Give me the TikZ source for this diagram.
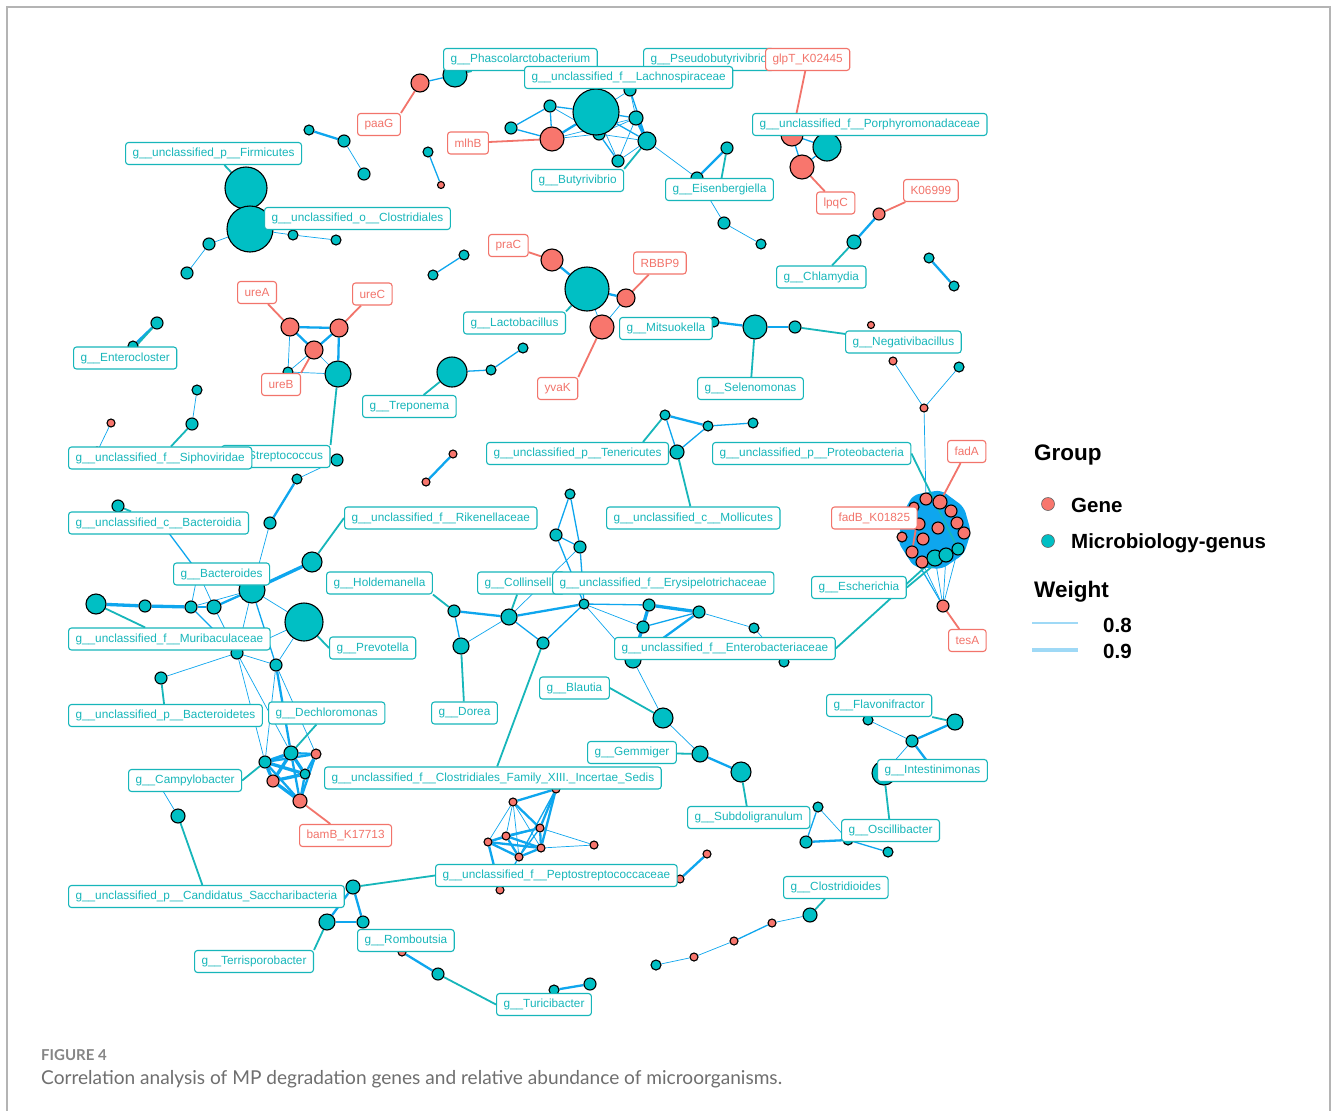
\documentclass[tikz,border=0pt]{standalone}
\usepackage{fontspec}
\setmainfont{Liberation Sans}
\newfontfamily\capfont{Lato}
\definecolor{genteal}{HTML}{00BFC4}
\definecolor{labteal}{HTML}{17B6BA}
\definecolor{genered}{HTML}{F8766D}
\definecolor{labred}{HTML}{F2746B}
\definecolor{edgeblue}{HTML}{0EA6EE}
\definecolor{legblue}{HTML}{9FD9F6}
\definecolor{capgray}{HTML}{6F6F6F}
\definecolor{framegray}{HTML}{B4B4B4}
\pgfdeclarelayer{backdrop}
\pgfdeclarelayer{edgelayer}
\pgfdeclarelayer{lablayer}
\pgfsetlayers{backdrop,edgelayer,main,lablayer}

\begin{document}
\begin{tikzpicture}[
    x=1pt, y=-1pt,
    genus/.style={circle, draw=black, line width=1.1pt, fill=genteal, inner sep=0pt, minimum size={2*#1pt}},
    gene/.style={genus=#1, fill=genered},
    tlab/.style={anchor=west, draw=labteal, text=labteal, fill=white, rounded corners=3pt,
      line width=1.1pt, inner xsep=7pt, inner ysep=0pt, minimum height=22pt,
      font=\fontsize{11.8}{13}\selectfont},
    rlab/.style={tlab, draw=labred, text=labred},
    ew1/.style={draw=edgeblue, line width=0.7pt},
    ew2/.style={draw=edgeblue, line width=1.3pt},
    ew3/.style={draw=edgeblue, line width=2.3pt},
    ew4/.style={draw=edgeblue, line width=3.3pt},
    tlead/.style={draw=labteal, line width=1.8pt},
    rlead/.style={draw=labred, line width=1.8pt},
    legtext/.style={anchor=base west, inner sep=0pt, font=\fontsize{20.5}{24}\selectfont\bfseries},
    legtitle/.style={anchor=base west, inner sep=0pt, font=\fontsize{22.5}{26}\selectfont\bfseries}
  ]

  \useasboundingbox (0,0) rectangle (1331,1111);
  \begin{pgfonlayer}{backdrop}
    \fill[white] (0,0) rectangle (1331,1111);
    \draw[framegray, line width=1.5pt] (7,1111) -- (7,7) -- (1330,7) -- (1330,1111);
  \end{pgfonlayer}

  % upper left
  \node[genus=21] (f1) at (246,188) {};
  \node[genus=23] (f2) at (250,229) {};
  \node[genus=5] (f3) at (293,235) {};
  \node[genus=5] (f4) at (336,240) {};
  \node[genus=6] (f5) at (209,244) {};
  \node[genus=6] (f6) at (187,273) {};
  \node[genus=5] (a1) at (309,130) {};
  \node[genus=6] (a2) at (344,141) {};
  \node[genus=6] (a3) at (364,174) {};
  \node[genus=5] (i1) at (428,152) {};
  \node[gene=3.5] (i2) at (441,185) {};
  \node[genus=5] (j1) at (433,275) {};
  \node[genus=5] (j2) at (464,255) {};

  % Phascolarctobacterium / Lachnospiraceae
  \node[genus=12] (p1) at (455,75) {};
  \node[gene=9] (p2) at (420,83) {};
  \node[genus=6] (l7) at (599,134) {};
  \node[genus=23] (l0) at (596,112) {};
  \node[genus=6] (l1) at (550,106) {};
  \node[genus=6] (l2) at (511,128) {};
  \node[genus=7] (l3) at (636,118) {};
  \node[genus=9] (l4) at (647,141) {};
  \node[genus=6] (l5) at (618,161) {};
  \node[genus=6] (l6) at (630,90) {};
  \node[gene=12] (m1) at (552,139) {};
  \node[genus=6] (e1) at (697,178) {};
  \node[genus=6] (e2) at (727,148) {};
  \node[genus=6] (e3) at (724,223) {};
  \node[genus=5] (e4) at (761,244) {};

  % Porphyromonadaceae / Chlamydia
  \node[gene=11] (q1) at (792,135) {};
  \node[genus=14] (q2) at (827,147) {};
  \node[gene=12] (q3) at (802,167) {};
  \node[gene=6] (k1) at (879,214) {};
  \node[genus=7] (k2) at (854,242) {};
  \node[genus=5] (d1) at (929,258) {};
  \node[genus=5] (d2) at (954,286) {};

  % Lactobacillus / Mitsuokella
  \node[gene=11] (r1) at (552,260) {};
  \node[genus=22] (r0) at (587,289) {};
  \node[gene=9] (r2) at (626,298) {};
  \node[gene=12] (r3) at (602,327) {};
  \node[genus=5] (s1) at (714,322) {};
  \node[genus=12] (s2) at (755,327) {};
  \node[genus=6] (s3) at (795,327) {};
  \node[gene=3.5] (g1) at (871,325) {};
  \node[gene=4] (g2) at (893,361) {};
  \node[genus=5] (g3) at (959,367) {};
  \node[gene=4] (g4) at (924,408) {};

  % ure genes
  \node[gene=9] (u1) at (290,327) {};
  \node[gene=9] (u2) at (339,328) {};
  \node[gene=9] (u3) at (314,350) {};
  \node[genus=13] (u4) at (338,374) {};
  \node[genus=5] (u5) at (288,372) {};
  \node[genus=6] (st1) at (337,460) {};
  \node[genus=5] (st2) at (297,479) {};
  \node[genus=6] (st3) at (270,523) {};
  \node[genus=6] (en1) at (157,323) {};
  \node[genus=5] (en2) at (133,346) {};
  \node[genus=15] (t1) at (452,372) {};
  \node[genus=5] (t2) at (491,370) {};
  \node[genus=5] (t3) at (523,348) {};
  \node[gene=4] (h1) at (426,482) {};
  \node[gene=4] (h2) at (453,454) {};
  \node[gene=4] (si1) at (111,423) {};
  \node[genus=5] (si0) at (97,452) {};
  \node[genus=5] (si2) at (197,390) {};
  \node[genus=6] (si3) at (192,424) {};
  \node[genus=6] (bd1) at (118,506) {};
  \node[genus=5] (bd0) at (165,528) {};
  \node[genus=6] (bs0) at (198,572) {};

  % Bacteroides
  \node[genus=13] (b0) at (252,590) {};
  \node[genus=10] (b1) at (312,562) {};
  \node[genus=19] (b2) at (304,622) {};
  \node[genus=10] (b3) at (96,604) {};
  \node[genus=6] (b4) at (145,606) {};
  \node[genus=6] (b5) at (191,607) {};
  \node[genus=7] (b6) at (214,607) {};
  \node[genus=6] (b7) at (237,653) {};
  \node[genus=6] (b8) at (276,665) {};
  \node[genus=6] (b9) at (161,678) {};

  % Dechloromonas
  \node[genus=6] (x1) at (265,762) {};
  \node[genus=7] (x2) at (291,753) {};
  \node[gene=5] (x3) at (316,754) {};
  \node[genus=5] (x4) at (305,774) {};
  \node[gene=6] (x5) at (273,781) {};
  \node[gene=7] (x6) at (300,801) {};
  \node[genus=5] (cp0) at (160,786) {};
  \node[genus=7] (cp1) at (178,816) {};

  % Romboutsia
  \node[genus=7] (w1) at (353,887) {};
  \node[genus=8] (w2) at (327,922) {};
  \node[genus=6] (w3) at (363,922) {};
  \node[gene=4] (w4) at (402,952) {};
  \node[genus=6] (w5) at (438,974) {};
  \node[genus=5] (w6) at (554,990) {};
  \node[genus=6] (w7) at (590,984) {};

  % Tenericutes
  \node[genus=5] (te1) at (665,415) {};
  \node[genus=7] (te2) at (677,452) {};
  \node[genus=5] (te3) at (708,426) {};
  \node[genus=5] (te4) at (753,423) {};

  % fadA cluster
  \node[gene=5] (fa12) at (914,507) {};
  \node[gene=6] (fa1) at (926,499) {};
  \node[gene=7] (fa2) at (940,502) {};
  \node[gene=6] (fa3) at (951,511) {};
  \node[gene=6] (fa4) at (957,523) {};
  \node[gene=6] (fa5) at (964,533) {};
  \node[gene=6] (fa6) at (938,528) {};
  \node[gene=6] (fa7) at (923,539) {};
  \node[gene=6] (fa8) at (919,524) {};
  \node[gene=5] (fa9) at (902,537) {};
  \node[gene=6] (fa10) at (912,552) {};
  \node[gene=6] (fa11) at (922,562) {};
  \node[genus=8] (fg1) at (935,558) {};
  \node[genus=7] (fg2) at (946,555) {};
  \node[genus=6] (fg3) at (958,549) {};
  \node[gene=6] (tA) at (943,606) {};

  % Collinsella / Enterobacteriaceae
  \node[genus=6] (ho1) at (454,611) {};
  \node[genus=8] (ho2) at (461,646) {};
  \node[genus=8] (co1) at (509,617) {};
  \node[genus=6] (co2) at (543,643) {};
  \node[genus=5] (co3) at (584,604) {};
  \node[genus=5] (co4) at (570,494) {};
  \node[genus=6] (co5) at (556,535) {};
  \node[genus=6] (co6) at (580,547) {};
  \node[genus=6] (er1) at (649,605) {};
  \node[genus=6] (er2) at (643,627) {};
  \node[genus=6] (er3) at (699,612) {};
  \node[genus=5] (er4) at (754,628) {};
  \node[genus=5] (er5) at (784,662) {};
  \node[genus=8] (er6) at (633,660) {};
  \node[genus=10] (bl1) at (663,718) {};
  \node[genus=8] (gm1) at (700,754) {};
  \node[genus=10] (gm2) at (741,772) {};

  % Peptostreptococcaceae
  \node[gene=4] (pp1) at (556,789) {};
  \node[gene=4] (pp2) at (513,802) {};
  \node[gene=4] (pp3) at (540,828) {};
  \node[gene=4] (pp4) at (506,836) {};
  \node[gene=4] (pp5) at (488,842) {};
  \node[gene=4] (pp6) at (541,848) {};
  \node[gene=4] (pp7) at (519,857) {};
  \node[gene=4] (pp8) at (594,845) {};
  \node[gene=4] (pp9) at (500,890) {};
  \node[gene=4] (pp11) at (680,879) {};
  \node[gene=4] (pp12) at (707,854) {};

  % Clostridioides chain
  \node[genus=7] (cd1) at (810,915) {};
  \node[gene=4] (cd2) at (772,923) {};
  \node[gene=4] (cd3) at (734,941) {};
  \node[gene=4] (cd4) at (694,957) {};
  \node[genus=5] (cd5) at (656,965) {};

  % Flavonifractor / Oscillibacter
  \node[genus=5] (fl1) at (868,720) {};
  \node[genus=8] (fl2) at (955,722) {};
  \node[genus=6] (fl3) at (912,741) {};
  \node[genus=12] (fl4) at (884,773) {};
  \node[genus=5] (fl5) at (930,765) {};
  \node[genus=5] (os1) at (818,807) {};
  \node[genus=6] (os2) at (806,842) {};
  \node[genus=5] (os3) at (848,840) {};
  \node[genus=5] (os4) at (888,852) {};

  % labels
  \begin{pgfonlayer}{lablayer}
    \node[tlab] (Lfirm) at (125,153.5) {g\_\_unclassified\_p\_\_Firmicutes};
    \node[tlab] (Lclos) at (264,218.5) {g\_\_unclassified\_o\_\_Clostridiales};
    \node[tlab] (Lentero) at (73,358) {g\_\_Enterocloster};
    \node[tlab] (Lphas) at (443,59.5) {g\_\_Phascolarctobacterium};
    \node[tlab] (Lpseudo) at (643,59.5) {g\_\_Pseudobutyrivibrio};
    \node[rlab] (LglpT) at (765,59.5) {glpT\_K02445};
    \node[tlab] (LLach) at (524,77.5) {g\_\_unclassified\_f\_\_Lachnospiraceae};
    \node[rlab] (LpaaG) at (357,124.5) {paaG};
    \node[rlab] (LmlhB) at (447,143) {mlhB};
    \node[tlab] (Lbuty) at (531,180.5) {g\_\_Butyrivibrio};
    \node[tlab] (Lporph) at (752,124.5) {g\_\_unclassified\_f\_\_Porphyromonadaceae};
    \node[tlab] (Leisen) at (665,189.5) {g\_\_Eisenbergiella};
    \node[rlab] (LlpqC) at (816,203) {lpqC};
    \node[rlab] (LK069) at (903,190.5) {K06999};
    \node[tlab] (Lchlam) at (776,277) {g\_\_Chlamydia};
    \node[rlab] (LpraC) at (488,245.5) {praC};
    \node[rlab] (LRBBP) at (633,263) {RBBP9};
    \node[tlab] (Llact) at (463,323) {g\_\_Lactobacillus};
    \node[tlab] (Lmits) at (619,328.5) {g\_\_Mitsuokella};
    \node[rlab] (LureA) at (237,292.5) {ureA};
    \node[rlab] (LureC) at (352,294) {ureC};
    \node[rlab] (LureB) at (261,384.5) {ureB};
    \node[rlab] (LyvaK) at (537,388.5) {yvaK};
    \node[tlab] (Ltrep) at (362,406.5) {g\_\_Treponema};
    \node[tlab] (Lsel) at (697,388.5) {g\_\_Selenomonas};
    \node[tlab] (Lneg) at (845,342) {g\_\_Negativibacillus};
    \node[tlab] (Lstrep) at (221,456.5) {g\_\_Streptococcus};
    \node[tlab] (Lsipho) at (68,458) {g\_\_unclassified\_f\_\_Siphoviridae};
    \node[tlab] (Lbactd) at (68,523) {g\_\_unclassified\_c\_\_Bacteroidia};
    \node[tlab] (Lbacts) at (173,574) {g\_\_Bacteroides};
    \node[tlab] (Lmuri) at (68,639) {g\_\_unclassified\_f\_\_Muribaculaceae};
    \node[tlab] (Lbactt) at (68,715.5) {g\_\_unclassified\_p\_\_Bacteroidetes};
    \node[tlab] (Ldech) at (268,713) {g\_\_Dechloromonas};
    \node[tlab] (Lrik) at (344,518) {g\_\_unclassified\_f\_\_Rikenellaceae};
    \node[tlab] (Lhold) at (326,583) {g\_\_Holdemanella};
    \node[tlab] (Lcoll) at (477,583) {g\_\_Collinsella};
    \node[tlab] (Lerys) at (552,583) {g\_\_unclassified\_f\_\_Erysipelotrichaceae};
    \node[tlab] (Lprev) at (329,648) {g\_\_Prevotella};
    \node[tlab] (Ldorea) at (431,713) {g\_\_Dorea};
    \node[tlab] (Lblau) at (539,688) {g\_\_Blautia};
    \node[tlab] (Lten) at (486,453.5) {g\_\_unclassified\_p\_\_Tenericutes};
    \node[tlab] (Lmoll) at (606,518) {g\_\_unclassified\_c\_\_Mollicutes};
    \node[tlab] (Lprot) at (712,453.5) {g\_\_unclassified\_p\_\_Proteobacteria};
    \node[rlab] (LfadA) at (947,451.5) {fadA};
    \node[rlab] (LfadB) at (831,518) {fadB\_K01825};
    \node[tlab] (Lesch) at (811,587.5) {g\_\_Escherichia};
    \node[rlab] (LtesA) at (948,640.5) {tesA};
    \node[tlab] (Lenterob) at (614,648.5) {g\_\_unclassified\_f\_\_Enterobacteriaceae};
    \node[tlab] (Lflav) at (826,705.5) {g\_\_Flavonifractor};
    \node[tlab] (Lintest) at (877,770.5) {g\_\_Intestinimonas};
    \node[tlab] (Losc) at (841,830.5) {g\_\_Oscillibacter};
    \node[tlab] (Lsubd) at (687,817.5) {g\_\_Subdoligranulum};
    \node[tlab] (Lclosd) at (783,887.5) {g\_\_Clostridioides};
    \node[tlab] (Lgemm) at (587,752.5) {g\_\_Gemmiger};
    \node[tlab] (Lfam) at (324,778) {g\_\_unclassified\_f\_\_Clostridiales\_Family\_XIII.\_Incertae\_Sedis};
    \node[rlab] (LbamB) at (299,835.5) {bamB\_K17713};
    \node[tlab] (Lcampy) at (128,780.5) {g\_\_Campylobacter};
    \node[tlab] (Lsacc) at (68,896.5) {g\_\_unclassified\_p\_\_Candidatus\_Saccharibacteria};
    \node[tlab] (Lterr) at (194,961.5) {g\_\_Terrisporobacter};
    \node[tlab] (Lpept) at (435,875.5) {g\_\_unclassified\_f\_\_Peptostreptococcaceae};
    \node[tlab] (Lromb) at (357,940.5) {g\_\_Romboutsia};
    \node[tlab] (Lturi) at (496,1004.5) {g\_\_Turicibacter};
  \end{pgfonlayer}

  % correlations and label leaders
  \begin{pgfonlayer}{edgelayer}
    \fill[edgeblue, rounded corners=6pt] (913,495) -- (941,490) -- (964,507) -- (971,532)
      -- (964,554) -- (942,569) -- (914,567) -- (898,542) -- (903,513) -- cycle;
    \foreach \a/\b in {f2/f3, f3/f4, f2/f5, f5/f6, a2/a3, l0/l5, l0/l6, l6/l3, l5/l3, l5/l4,
        m1/l7, l1/l7, l7/l3, l7/l4, m1/l3, l4/e1, e1/e3, e3/e4, r0/r3, r3/r2, g2/g4, g3/g4,
        g4/fa1, u3/u4, u1/u5, u5/u4, u5/u3, st1/st2, st3/b0, si1/si0, si2/si3, b0/b2, b2/b8,
        b0/b7, b5/b0, b6/b7, bs0/b5, bs0/b6, bs0/b0, b7/b8, b9/b7, b2/b7, b7/x1, b7/x2,
        b8/x1, b8/x3, cp0/cp1, tA/fg1, tA/fg2, tA/fg3, tA/fa10, tA/fa11, tA/fa9, ho2/co1,
        co1/co6, co3/er2, co3/er6, er3/er4, er4/er5, er6/bl1, bl1/gm1, pp2/pp5, pp2/pp4,
        pp2/pp7, pp2/pp6, pp3/pp8, pp6/pp8, cd1/cd2, cd3/cd4, cd4/cd5, fl1/fl3, fl3/fl4,
        os1/os3}
      \draw[ew1] (\a) -- (\b);
    \foreach \a/\b in {i1/i2, j1/j2, p1/p2, m1/l1, m1/l2, l1/l2, l1/l0, l0/l3, l0/l4, l6/l4,
        l7/l5, q1/q3, q3/q2, q1/q2, s2/s3, t1/t2, t2/t3, bd0/bs0, b0/b8, b5/b7, te1/te2,
        te2/te3, te3/te4, ho1/ho2, co1/co2, co2/co3, co4/co5, co4/co6, co5/co6, co5/co3,
        co6/co3, co3/er1, er2/er3, er2/er6, pp1/pp7, pp3/pp5, pp3/pp7, pp7/pp9, cd2/cd3,
        os1/os2, os3/os4}
      \draw[ew2] (\a) -- (\b);
    \foreach \a/\b in {a1/a2, m1/l0, e1/e2, k1/k2, d1/d2, r1/r0, r0/r2, s1/s2, u1/u2, u1/u3,
        u2/u3, u2/u4, st2/st3, en1/en2, h1/h2, b5/b6, b6/b0, b8/x2, x2/x3, x3/x4, x3/x6,
        x4/x6, x1/x6, x2/x6, x1/x3, w1/w2, w1/w3, w2/w3, w4/w5, w6/w7, te1/te3, ho1/co1,
        co1/co3, er1/er2, er3/er6, gm1/gm2, pp1/pp2, pp1/pp3, pp1/pp6, pp2/pp3, pp3/pp4,
        pp3/pp6, pp4/pp5, pp4/pp6, pp4/pp7, pp5/pp6, pp5/pp7, pp6/pp7, pp5/pp9, pp11/pp12,
        fl3/fl2, fl3/fl5, os2/os3}
      \draw[ew3] (\a) -- (\b);
    \foreach \a/\b in {l3/l4, b0/b1, b3/b4, b4/b5, x1/x2, x1/x4, x1/x5, x2/x4, x2/x5,
        x4/x5, x5/x6, er1/er3, er1/er6}
      \draw[ew4] (\a) -- (\b);

    \foreach \a/\b in {Lfirm/f1, Lclos/f2, Lphas/p1, Leisen/e2, Lchlam/k2, Lsel/s2,
        Lneg/s3, Lentero/en1, Ltrep/t1, Lsipho/si3, Lbactd/bd1, Lmuri/b3, Lbactt/b9,
        Ldech/x2, Lsacc/cp1, Lmoll/te2, Ldorea/ho2, Lcoll/co1, Lfam/co2, Lgemm/gm1,
        Lsubd/gm2, Lclosd/cd1, Lflav/fl2, Losc/fl4}
      \draw[tlead] (\a) -- (\b);
    \draw[tlead] (Lbuty.north east) -- (l4);
    \draw[tlead] (Llact.north east) -- (r0);
    \draw[tlead] (Lstrep.north east) -- (u4);
    \draw[tlead] (Lrik.west) -- (b1);
    \draw[tlead] (Lprev.west) -- (b2);
    \draw[tlead] (Lcampy.east) -- (x1);
    \draw[tlead] (Lpept.west) -- (w1);
    \draw[tlead] (Lterr.north east) -- (w2);
    \draw[tlead] (Lturi.west) -- (w5);
    \draw[tlead] ([xshift=-26pt]Lten.north east) -- (te1);
    \draw[tlead] (Lprot.east) -- (fg3);
    \draw[tlead] (Lesch.east) -- (fg2);
    \draw[tlead] (Lenterob.east) -- (fg1);
    \draw[tlead] (Lhold.south east) -- (ho1);
    \draw[tlead] (Lblau.east) -- (bl1);

    \foreach \a/\b in {LmlhB/m1, LglpT/q1, LlpqC/q3, LK069/k1, LpraC/r1, LRBBP/r2,
        LureA/u1, LureC/u2, LfadA/fa2, LtesA/tA, LbamB/x6}
      \draw[rlead] (\a) -- (\b);
    \draw[rlead] (LpaaG.north east) -- (p2);
    \draw[rlead] (LyvaK.north east) -- (r3);
    \draw[rlead] (LureB.north east) -- (u3);
    \draw[rlead] (LfadB.east) -- (fa10);
  \end{pgfonlayer}

  % legend
  \node[legtitle] (grouptitle) at (1034,460) {Group};
  \node[gene=6.5, draw=black!60, line width=0.6pt] (keygene) at (1048,504) {};
  \node[legtext] (txtgene) at (1071,512) {Gene};
  \node[genus=6.5, draw=black!60, line width=0.6pt] (keygenus) at (1048,541) {};
  \node[legtext] (txtgenus) at (1071,548) {Microbiology-genus};
  \node[legtitle] (weighttitle) at (1034,597) {Weight};
  \coordinate (wa1) at (1032,623);
  \coordinate (wa2) at (1078,623);
  \coordinate (wb1) at (1032,650);
  \coordinate (wb2) at (1078,650);
  \draw[legblue, line width=1.8pt] (wa1) -- (wa2);
  \draw[legblue, line width=3.4pt] (wb1) -- (wb2);
  \node[legtext] (txteight) at (1103,632) {0.8};
  \node[legtext] (txtnine) at (1103,658) {0.9};

  % caption
  \node[anchor=base west, inner sep=0pt, text=capgray!85,
    font={\capfont\fontsize{15}{18}\selectfont\bfseries}] (fignum) at (41,1060) {FIGURE 4};
  \node[anchor=base west, inner sep=0pt, text=capgray,
    font={\capfont\fontsize{19.1}{23}\selectfont}] (figcap) at (41,1084)
    {Correlation analysis of MP degradation genes and relative abundance of microorganisms.};

\end{tikzpicture}
\end{document}
